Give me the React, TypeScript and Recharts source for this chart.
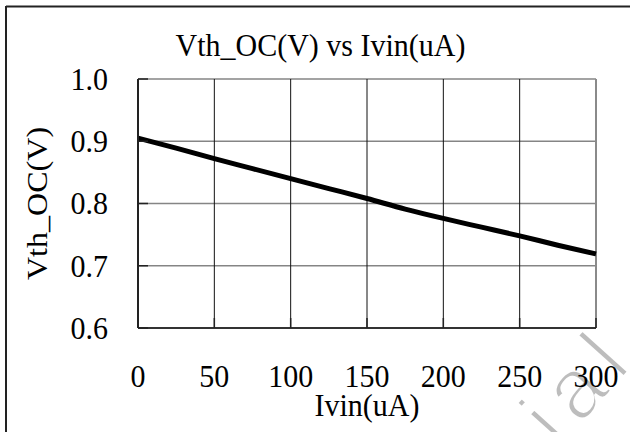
import React from 'react';
import {
  LineChart,
  Line,
  XAxis,
  YAxis,
  CartesianGrid,
  ReferenceLine,
  Label,
} from 'recharts';

const ivin = [0, 25, 50, 75, 100, 125, 150, 175, 200, 225, 250, 275, 300];
const vthOc = [0.905, 0.889, 0.872, 0.856, 0.84, 0.824, 0.808, 0.791, 0.776, 0.762, 0.748, 0.733, 0.719];
const xTicks = [0, 50, 100, 150, 200, 250, 300];
const yTicks = [0.6, 0.7, 0.8, 0.9, 1.0];
const title = 'Vth_OC(V) vs Ivin(uA)';
const xLabel = 'Ivin(uA)';
const yLabel = 'Vth_OC(V)';
const watermark = 'ial';

const data = ivin.map((x, i) => ({ x, y: vthOc[i] }));

const SERIF = '"Liberation Serif", "Times New Roman", serif';
const FS = 30;
const SY = 1.07;
const W = 630;
const H = 432;

const XTick = (props: any) => {
  const { x, y, payload } = props;
  return (
    <g transform={`translate(${x},${y}) scale(1,${SY})`}>
      <text x={0} y={0} dy="0.71em" textAnchor="middle" fontSize={FS} fontFamily={SERIF} fill="#000">
        {payload.value}
      </text>
    </g>
  );
};

const YTick = (props: any) => {
  const { x, y, payload } = props;
  return (
    <g transform={`translate(${x},${y}) scale(1,${SY})`}>
      <text x={0} y={0} dy="0.34em" textAnchor="end" fontSize={FS} fontFamily={SERIF} fill="#000">
        {Number(payload.value).toFixed(1)}
      </text>
    </g>
  );
};

export default function App() {
  return (
    <div style={{ position: 'absolute', left: 0, top: 0, width: W, height: H, background: '#fff', overflow: 'hidden' }}>
      <svg
        width={W}
        height={H}
        style={{ position: 'absolute', left: 0, top: 0 }}
      >
        <line x1={6} y1={6.5} x2={W} y2={6.5} stroke="#222" strokeWidth={2} />
        <line x1={6} y1={6} x2={6} y2={H} stroke="#222" strokeWidth={2} />
        <g transform={`translate(320.5,56) scale(1,${SY})`}>
          <text x={0} y={0} textAnchor="middle" fontSize={FS} fontFamily={SERIF} fill="#000">
            {title}
          </text>
        </g>
        <text
          x={0}
          y={0}
          transform="translate(559, 449) rotate(-48)"
          fontSize={86}
          letterSpacing={12}
          fontFamily='"Liberation Sans", Arial, sans-serif'
          fill="#bdbdbd"
          stroke="#ffffff"
          strokeWidth={3}
        >
          {watermark}
        </text>
      </svg>
      <LineChart
        width={W}
        height={H}
        data={data}
        margin={{ top: 79, right: 34, bottom: 44, left: 0 }}
      >
        <CartesianGrid horizontal={true} vertical={false} stroke="#858585" strokeWidth={1.5} />
        <CartesianGrid horizontal={false} vertical={true} stroke="#111" strokeWidth={1} />
        <ReferenceLine x={300} stroke="#8a8a8a" strokeWidth={2} />
        <XAxis
          dataKey="x"
          type="number"
          domain={[0, 300]}
          ticks={xTicks}
          interval={0}
          height={60}
          axisLine={{ stroke: '#333', strokeWidth: 2 }}
          tickLine={{ stroke: '#222', strokeWidth: 1.5 }}
          tickSize={-10}
          tickMargin={46}
          tick={<XTick />}
        >
          <Label
            content={(props: any) => {
              const vb = props.viewBox || { x: 138, y: 328, width: 458, height: 60 };
              const cx = vb.x + vb.width / 2;
              const cy = vb.y + 88;
              return (
                <g transform={`translate(${cx},${cy}) scale(1,${SY})`}>
                  <text x={0} y={0} textAnchor="middle" fontSize={FS} fontFamily={SERIF} fill="#000">
                    {xLabel}
                  </text>
                </g>
              );
            }}
          />
        </XAxis>
        <YAxis
          type="number"
          domain={[0.6, 1.0]}
          ticks={yTicks}
          interval={0}
          width={138}
          axisLine={{ stroke: '#222', strokeWidth: 2 }}
          tickLine={{ stroke: '#222', strokeWidth: 1.5 }}
          tickSize={-10}
          tickMargin={40}
          tick={<YTick />}
        >
          <Label
            content={(props: any) => {
              const vb = props.viewBox || { x: 0, y: 79, width: 138, height: 249 };
              const cx = vb.x + 47;
              const cy = vb.y + vb.height / 2;
              return (
                <g transform={`translate(${cx},${cy}) rotate(-90) scale(${SY},1)`}>
                  <text x={0} y={0} textAnchor="middle" fontSize={FS} fontFamily={SERIF} fill="#000">
                    {yLabel}
                  </text>
                </g>
              );
            }}
          />
        </YAxis>
        <Line
          type="monotone"
          dataKey="y"
          stroke="#000"
          strokeWidth={5}
          dot={false}
          activeDot={false}
          isAnimationActive={false}
        />
      </LineChart>
    </div>
  );
}
